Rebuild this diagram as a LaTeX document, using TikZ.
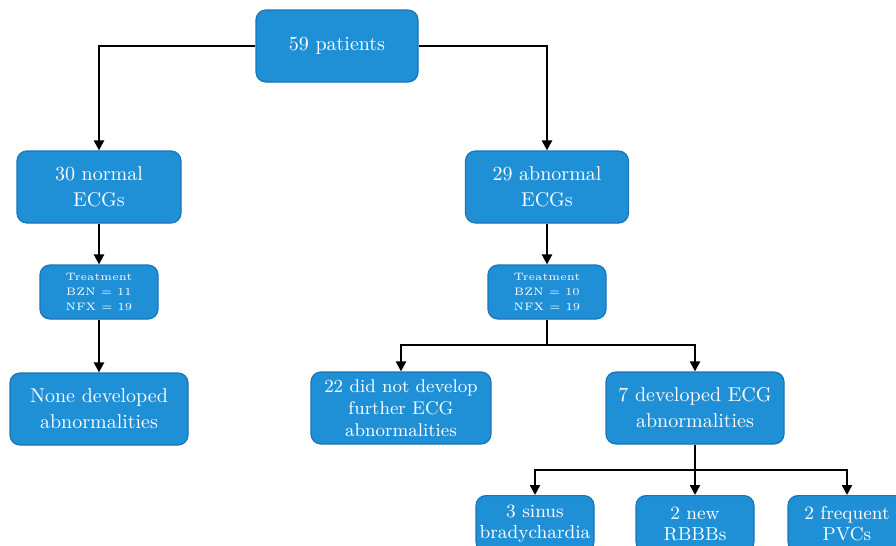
\documentclass[tikz,border=0pt]{standalone}
\usepackage{xcolor}
\usetikzlibrary{arrows.meta}

\definecolor{boxblue}{HTML}{1F90D6}
\definecolor{boxline}{HTML}{1A74B6}

\begin{document}
\begin{tikzpicture}[x=0.5pt, y=-0.5pt,
  box/.style={draw=boxline, line width=0.6pt, fill=boxblue, rounded corners=5pt, text=white, align=center, font=\fontsize{10}{13}\selectfont, minimum height=36pt, inner sep=1pt},
  three/.style={box, font=\fontsize{9.2}{11}\selectfont},
  small/.style={box, font=\fontsize{5.4}{7.6}\selectfont, minimum width=59pt, minimum height=27pt},
  leaf/.style={box, font=\fontsize{9.4}{10.5}\selectfont, minimum width=59pt, minimum height=28pt, anchor=north},
  arr/.style={line width=1.2pt, -{Triangle[length=5pt, width=5pt]}},
  conn/.style={line width=1.2pt}]
  \clip (0,0) rectangle (896,546);
  \useasboundingbox (0,0) rectangle (896,546);

  % top
  \node[box, minimum width=81pt](patients) at (337,46) {59 patients};

  % normal branch
  \node[box, minimum width=82pt](normal) at (99,187) {30 normal\\ECGs};
  \node[small](treatL) at (99,292) {Treatment\\BZN = 11\\NFX = 19};
  \node[box, minimum width=89pt](nonedev) at (99,409) {None developed\\abnormalities};

  % abnormal branch
  \node[box, minimum width=81.5pt](abnormal) at (547,187) {29 abnormal\\ECGs};
  \node[small](treatR) at (547,292) {Treatment\\BZN = 10\\NFX = 19};
  \node[three, minimum width=90pt](notdev) at (401,408) {22 did not develop\\further ECG\\abnormalities};
  \node[box, minimum width=89pt](devel) at (695,408) {7 developed ECG\\abnormalities};

  % bottom row
  \node[leaf](sinus) at (535,495) {3 sinus\\bradychardia};
  \node[leaf](rbbb) at (695,495) {2 new\\RBBBs};
  \node[leaf](pvc) at (847,495) {2 frequent\\PVCs};

  \coordinate (splitA) at (547,345);
  \coordinate (splitB) at (695,470);

  \draw[arr] (patients.west) -| (normal.north);
  \draw[arr] (patients.east) -| (abnormal.north);
  \draw[arr] (normal) -- (treatL);
  \draw[arr] (treatL) -- (nonedev);
  \draw[arr] (abnormal) -- (treatR);
  \draw[conn] (treatR.south) -- (splitA);
  \draw[arr] (splitA) -| (notdev.north);
  \draw[arr] (splitA) -| (devel.north);
  \draw[conn] (devel.south) -- (splitB);
  \draw[arr] (splitB) -| (sinus.north);
  \draw[arr] (splitB) -- (rbbb.north);
  \draw[arr] (splitB) -| (pvc.north);
\end{tikzpicture}
\end{document}
